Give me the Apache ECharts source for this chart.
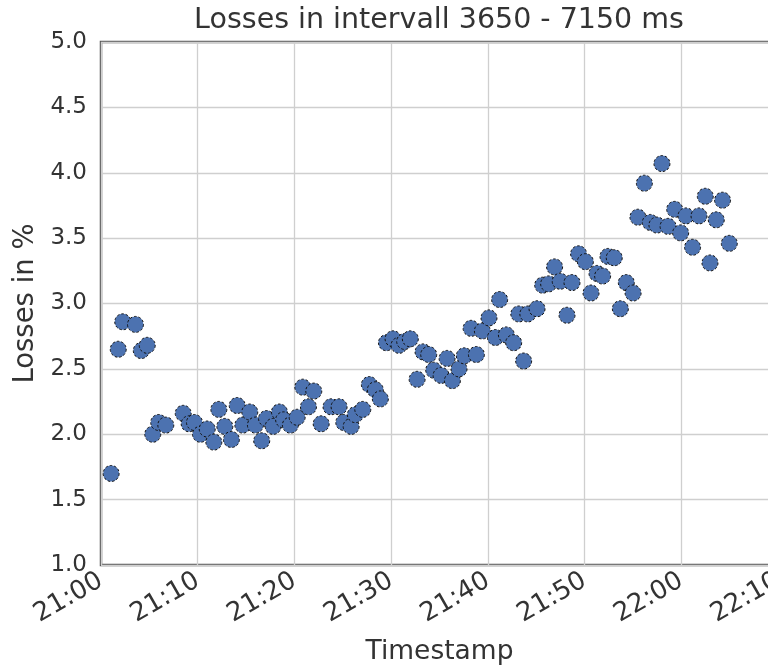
<!DOCTYPE html>
<html>
<head>
<meta charset="utf-8">
<script src="https://cdn.jsdelivr.net/npm/echarts@6/dist/echarts.min.js"></script>
<style>
  html, body { margin: 0; padding: 0; background: #ffffff; }
  #chart { width: 768px; height: 670px; }
</style>
</head>
<body>
<div id="chart"></div>
<script>
// Measurement times (HH:MM:SS)
const timestamps = [
  '21:01:03','21:01:47','21:02:15','21:03:34','21:04:10','21:04:47','21:05:21','21:05:58','21:06:42','21:08:30',
  '21:09:07','21:09:40','21:10:17','21:10:59','21:11:40','21:12:11','21:12:48','21:13:29','21:14:05','21:14:40',
  '21:15:23','21:15:58','21:16:37','21:17:07','21:17:48','21:18:27','21:18:53','21:19:35','21:20:17','21:20:52',
  '21:21:27','21:22:00','21:22:46','21:23:47','21:24:37','21:25:06','21:25:52','21:26:18','21:27:04','21:27:45',
  '21:28:22','21:28:53','21:29:31','21:30:12','21:30:49','21:31:24','21:31:59','21:32:41','21:33:18','21:33:53',
  '21:34:24','21:35:10','21:35:47','21:36:20','21:37:01','21:37:34','21:38:16','21:38:49','21:39:26','21:40:07',
  '21:40:47','21:41:13','21:41:55','21:42:40','21:43:12','21:43:42','21:44:08','21:45:05','21:45:40','21:46:17',
  '21:46:54','21:47:29','21:48:11','21:48:42','21:49:23','21:50:05','21:50:40','21:51:17','21:51:52','21:52:25',
  '21:53:04','21:53:42','21:54:19','21:55:01','21:55:31','21:56:11','21:56:48','21:57:29','21:58:00','21:58:38',
  '21:59:19','21:59:56','22:00:29','22:01:10','22:01:50','22:02:29','22:02:58','22:03:37','22:04:16','22:04:58'
];

// Packet losses in percent
const losses = [
  1.70, 2.65, 2.86, 2.84, 2.64, 2.68, 2.00, 2.09, 2.07, 2.16,
  2.08, 2.09, 2.00, 2.04, 1.94, 2.19, 2.06, 1.96, 2.22, 2.07,
  2.17, 2.07, 1.95, 2.12, 2.06, 2.17, 2.11, 2.07, 2.13, 2.36,
  2.21, 2.33, 2.08, 2.21, 2.21, 2.09, 2.06, 2.15, 2.19, 2.38,
  2.34, 2.27, 2.70, 2.73, 2.68, 2.71, 2.73, 2.42, 2.63, 2.61,
  2.49, 2.45, 2.58, 2.41, 2.50, 2.60, 2.81, 2.61, 2.79, 2.89,
  2.74, 3.03, 2.76, 2.70, 2.92, 2.56, 2.92, 2.96, 3.14, 3.15,
  3.28, 3.17, 2.91, 3.16, 3.38, 3.32, 3.08, 3.23, 3.21, 3.36,
  3.35, 2.96, 3.16, 3.08, 3.66, 3.92, 3.62, 3.60, 4.07, 3.59,
  3.72, 3.54, 3.67, 3.43, 3.67, 3.82, 3.31, 3.64, 3.79, 3.46
];

// Axis ranges and tick spacing
const startClock = '21:00';
const xRange = [0, 70];        // minutes after startClock
const xStep = 10;
const yRange = [1.0, 5.0];
const yStep = 0.5;

const chartTitle = 'Losses in intervall 3650 - 7150 ms';
const xTitle = 'Timestamp';
const yTitle = 'Losses in %';

function toMinutes(hms) {
  const p = hms.split(':').map(Number);
  return p[0] * 60 + p[1] + (p[2] || 0) / 60;
}
const origin = toMinutes(startClock);
function clockLabel(mins) {
  const total = Math.round(origin + mins);
  const h = Math.floor(total / 60) % 24;
  const m = total % 60;
  return String(h).padStart(2, '0') + ':' + String(m).padStart(2, '0');
}

const points = timestamps.map((t, i) => [toMinutes(t) - origin, losses[i]]);

const font = 'DejaVu Sans';
const textColor = '#333333';

const chart = echarts.init(document.getElementById('chart'), null, { renderer: 'canvas' });
chart.setOption({
  animation: false,
  backgroundColor: '#ffffff',
  title: {
    text: chartTitle,
    left: 434,
    top: 1,
    textAlign: 'center',
    textStyle: { fontFamily: font, fontSize: 28.5, fontWeight: 'normal', color: textColor }
  },
  grid: {
    left: 101, top: 42, right: -10, bottom: 105,
    outerBoundsMode: 'none',
    containLabel: false,
    show: true, borderColor: '#5a5a5a', borderWidth: 2.5, backgroundColor: 'transparent'
  },
  xAxis: {
    type: 'value',
    min: xRange[0], max: xRange[1], interval: xStep,
    name: xTitle, nameLocation: 'middle', nameGap: 74,
    nameTextStyle: { fontFamily: font, fontSize: 26.5, color: textColor },
    axisLine: { show: false },
    axisTick: { show: false },
    splitLine: { show: true, lineStyle: { color: '#cfcfcf', width: 1.3 } },
    axisLabel: {
      rotate: 30, margin: 14,
      fontFamily: font, fontSize: 26, color: textColor,
      formatter: v => clockLabel(v),
      showMinLabel: true, showMaxLabel: true
    }
  },
  yAxis: {
    type: 'value',
    min: yRange[0], max: yRange[1], interval: yStep,
    name: yTitle, nameLocation: 'middle', nameGap: 58,
    nameTextStyle: { fontFamily: font, fontSize: 27.5, color: textColor },
    axisLine: { show: false },
    axisTick: { show: false },
    splitLine: { show: true, lineStyle: { color: '#cfcfcf', width: 1.3 } },
    axisLabel: {
      margin: 14,
      fontFamily: font, fontSize: 23, color: textColor,
      formatter: v => v.toFixed(1)
    }
  },
  series: [{
    type: 'scatter',
    data: points,
    symbol: 'circle',
    symbolSize: 16,
    itemStyle: {
      color: '#4c72b0',
      borderColor: '#111111',
      borderWidth: 1,
      borderType: [2.5, 2],
      opacity: 1
    }
  }]
});
</script>
</body>
</html>
